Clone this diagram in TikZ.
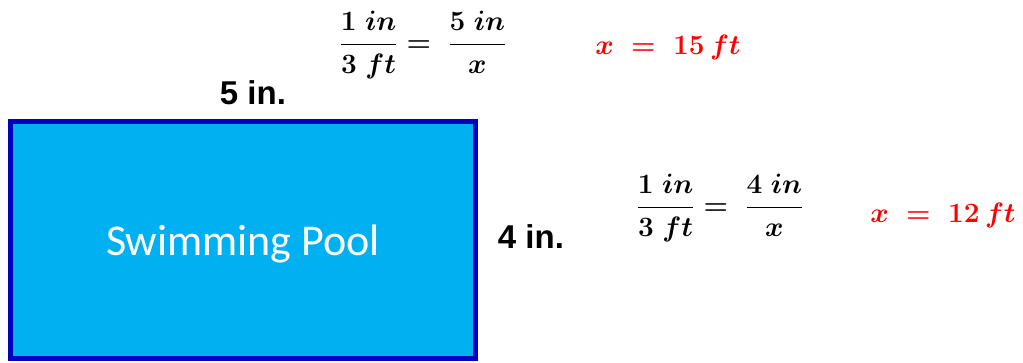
\documentclass[tikz,border=0pt]{standalone}
\usepackage{fix-cm}
\usepackage{amsmath}
\usepackage{xcolor}
\usepackage{fontspec}
\usepackage{tikz}
\usetikzlibrary{positioning}
\newfontfamily\labelfont{Liberation Sans}
\newfontfamily\poolfont{Carlito}
\definecolor{poolfill}{RGB}{0,176,240}
\definecolor{pooledge}{RGB}{0,0,192}
\definecolor{ansred}{RGB}{255,0,0}

\begin{document}
\begin{tikzpicture}[
  x=1pt, y=-1pt,
  pool/.style={draw=pooledge, line width=5pt, fill=poolfill, minimum width=465pt, minimum height=237pt, text=white, text height=39pt, font=\poolfont\fontsize{44}{50}\selectfont},
  dim/.style={font=\labelfont\bfseries\fontsize{33}{38}\selectfont, inner sep=0pt},
  ratio/.style={font=\boldmath\fontsize{28}{33}\selectfont, inner sep=0pt},
  answer/.style={font=\boldmath\fontsize{28}{33}\selectfont, text=ansred, inner sep=0pt},
]
\useasboundingbox (0,0) rectangle (1023,362);
\node[pool] (pool) at (243,240) {Swimming Pool};
\node[dim] (top) at (253,93) {5 in.};
\node[dim] (side) at (531,237) {4 in.};

\node[ratio] (eqa) at (423,45) {$\dfrac{1\ in}{3\ ft}=\ \dfrac{5\ in}{x}$};
\node[answer] (ansa) at (668,47) {$x\ =\ 15\,ft$};
\node[ratio] (eqb) at (720,208) {$\dfrac{1\ in}{3\ ft}=\ \dfrac{4\ in}{x}$};
\node[answer] (ansb) at (943,215) {$x\ =\ 12\,ft$};
\end{tikzpicture}
\end{document}
